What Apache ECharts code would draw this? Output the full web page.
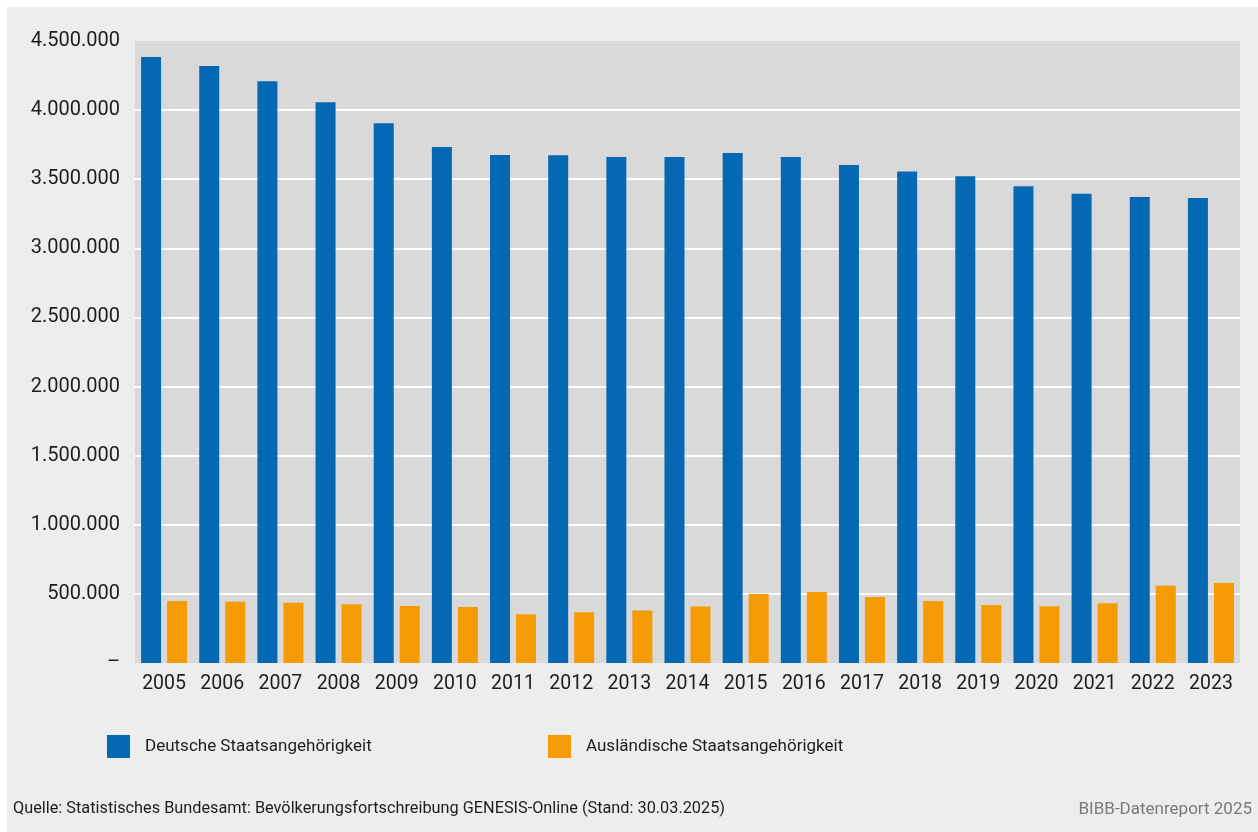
<!DOCTYPE html>
<html>
<head>
<meta charset="utf-8">
<script src="https://cdn.jsdelivr.net/npm/echarts@6/dist/echarts.min.js"></script>
<style>
html,body{margin:0;padding:0;background:#fff;}
#c{position:absolute;left:7px;top:7px;width:1251px;height:825px;}
</style>
</head>
<body>
<div id="c"></div>
<script>
const years = ['2005','2006','2007','2008','2009','2010','2011','2012','2013','2014','2015','2016','2017','2018','2019','2020','2021','2022','2023'];
const deutsch = [4384000, 4319000, 4208000, 4056000, 3905000, 3733000, 3675000, 3673000, 3661000, 3661000, 3690000, 3661000, 3603000, 3555000, 3521000, 3449000, 3395000, 3371000, 3364000];
const auslaendisch = [449000, 443000, 436000, 425000, 412000, 405000, 352000, 367000, 379000, 408000, 499000, 514000, 478000, 449000, 420000, 410000, 432000, 559000, 579000];
const seriesNames = ['Deutsche Staatsangehörigkeit', 'Ausländische Staatsangehörigkeit'];
const sourceText = 'Quelle: Statistisches Bundesamt: Bevölkerungsfortschreibung GENESIS-Online (Stand: 30.03.2025)';
const brandText = 'BIBB-Datenreport 2025';

const FONT = 'Roboto, "Liberation Sans", sans-serif';
const chart = echarts.init(document.getElementById('c'));
const fmt = v => v === 0 ? '–' : v.toString().replace(/\B(?=(\d{3})+(?!\d))/g, '.');
const lineColors = [];
for (let i = 0; i <= 9; i++) lineColors.push(i === 0 || i === 9 ? 'rgba(0,0,0,0)' : '#ffffff');

chart.setOption({
  backgroundColor: '#ededed',
  animation: false,
  textStyle: { fontFamily: FONT },
  grid: { left: 128, top: 34, right: 18, bottom: 169, show: true, backgroundColor: '#d9d9d9', borderWidth: 0, containLabel: false },
  xAxis: {
    type: 'category', data: years,
    axisLine: { show: false }, axisTick: { show: false },
    axisLabel: { color: '#1d1d1b', fontSize: 19.5, margin: 11, interval: 0, fontFamily: FONT }
  },
  yAxis: {
    type: 'value', min: 0, max: 4500000, interval: 500000,
    axisLine: { show: false }, axisTick: { show: false },
    axisLabel: { color: '#1d1d1b', fontSize: 20, margin: 15, formatter: fmt, fontFamily: FONT },
    splitLine: { show: true, lineStyle: { color: lineColors, width: 2 } }
  },
  legend: [
    { data: [seriesNames[0]], left: 95, top: 723, icon: 'rect', itemWidth: 23, itemHeight: 23,
      textStyle: { fontSize: 17, color: '#1d1d1b', padding: [0,0,0,10], fontFamily: FONT } },
    { data: [seriesNames[1]], left: 536, top: 723, icon: 'rect', itemWidth: 23, itemHeight: 23,
      textStyle: { fontSize: 17, color: '#1d1d1b', padding: [0,0,0,10], fontFamily: FONT } }
  ],
  graphic: [
    { type: 'text', left: 6, top: 794, style: { text: sourceText, fontSize: 16.3, fill: '#1d1d1b', fontFamily: FONT } },
    { type: 'text', right: 6, top: 794, style: { text: brandText, fontSize: 17, fill: '#7a7a7a', fontFamily: FONT } }
  ],
  series: [
    { name: seriesNames[0], type: 'bar', data: deutsch, barWidth: 20, barGap: '30%', itemStyle: { color: '#0568b3' } },
    { name: seriesNames[1], type: 'bar', data: auslaendisch, barWidth: 20, itemStyle: { color: '#f59c04' } }
  ]
});
</script>
</body>
</html>
